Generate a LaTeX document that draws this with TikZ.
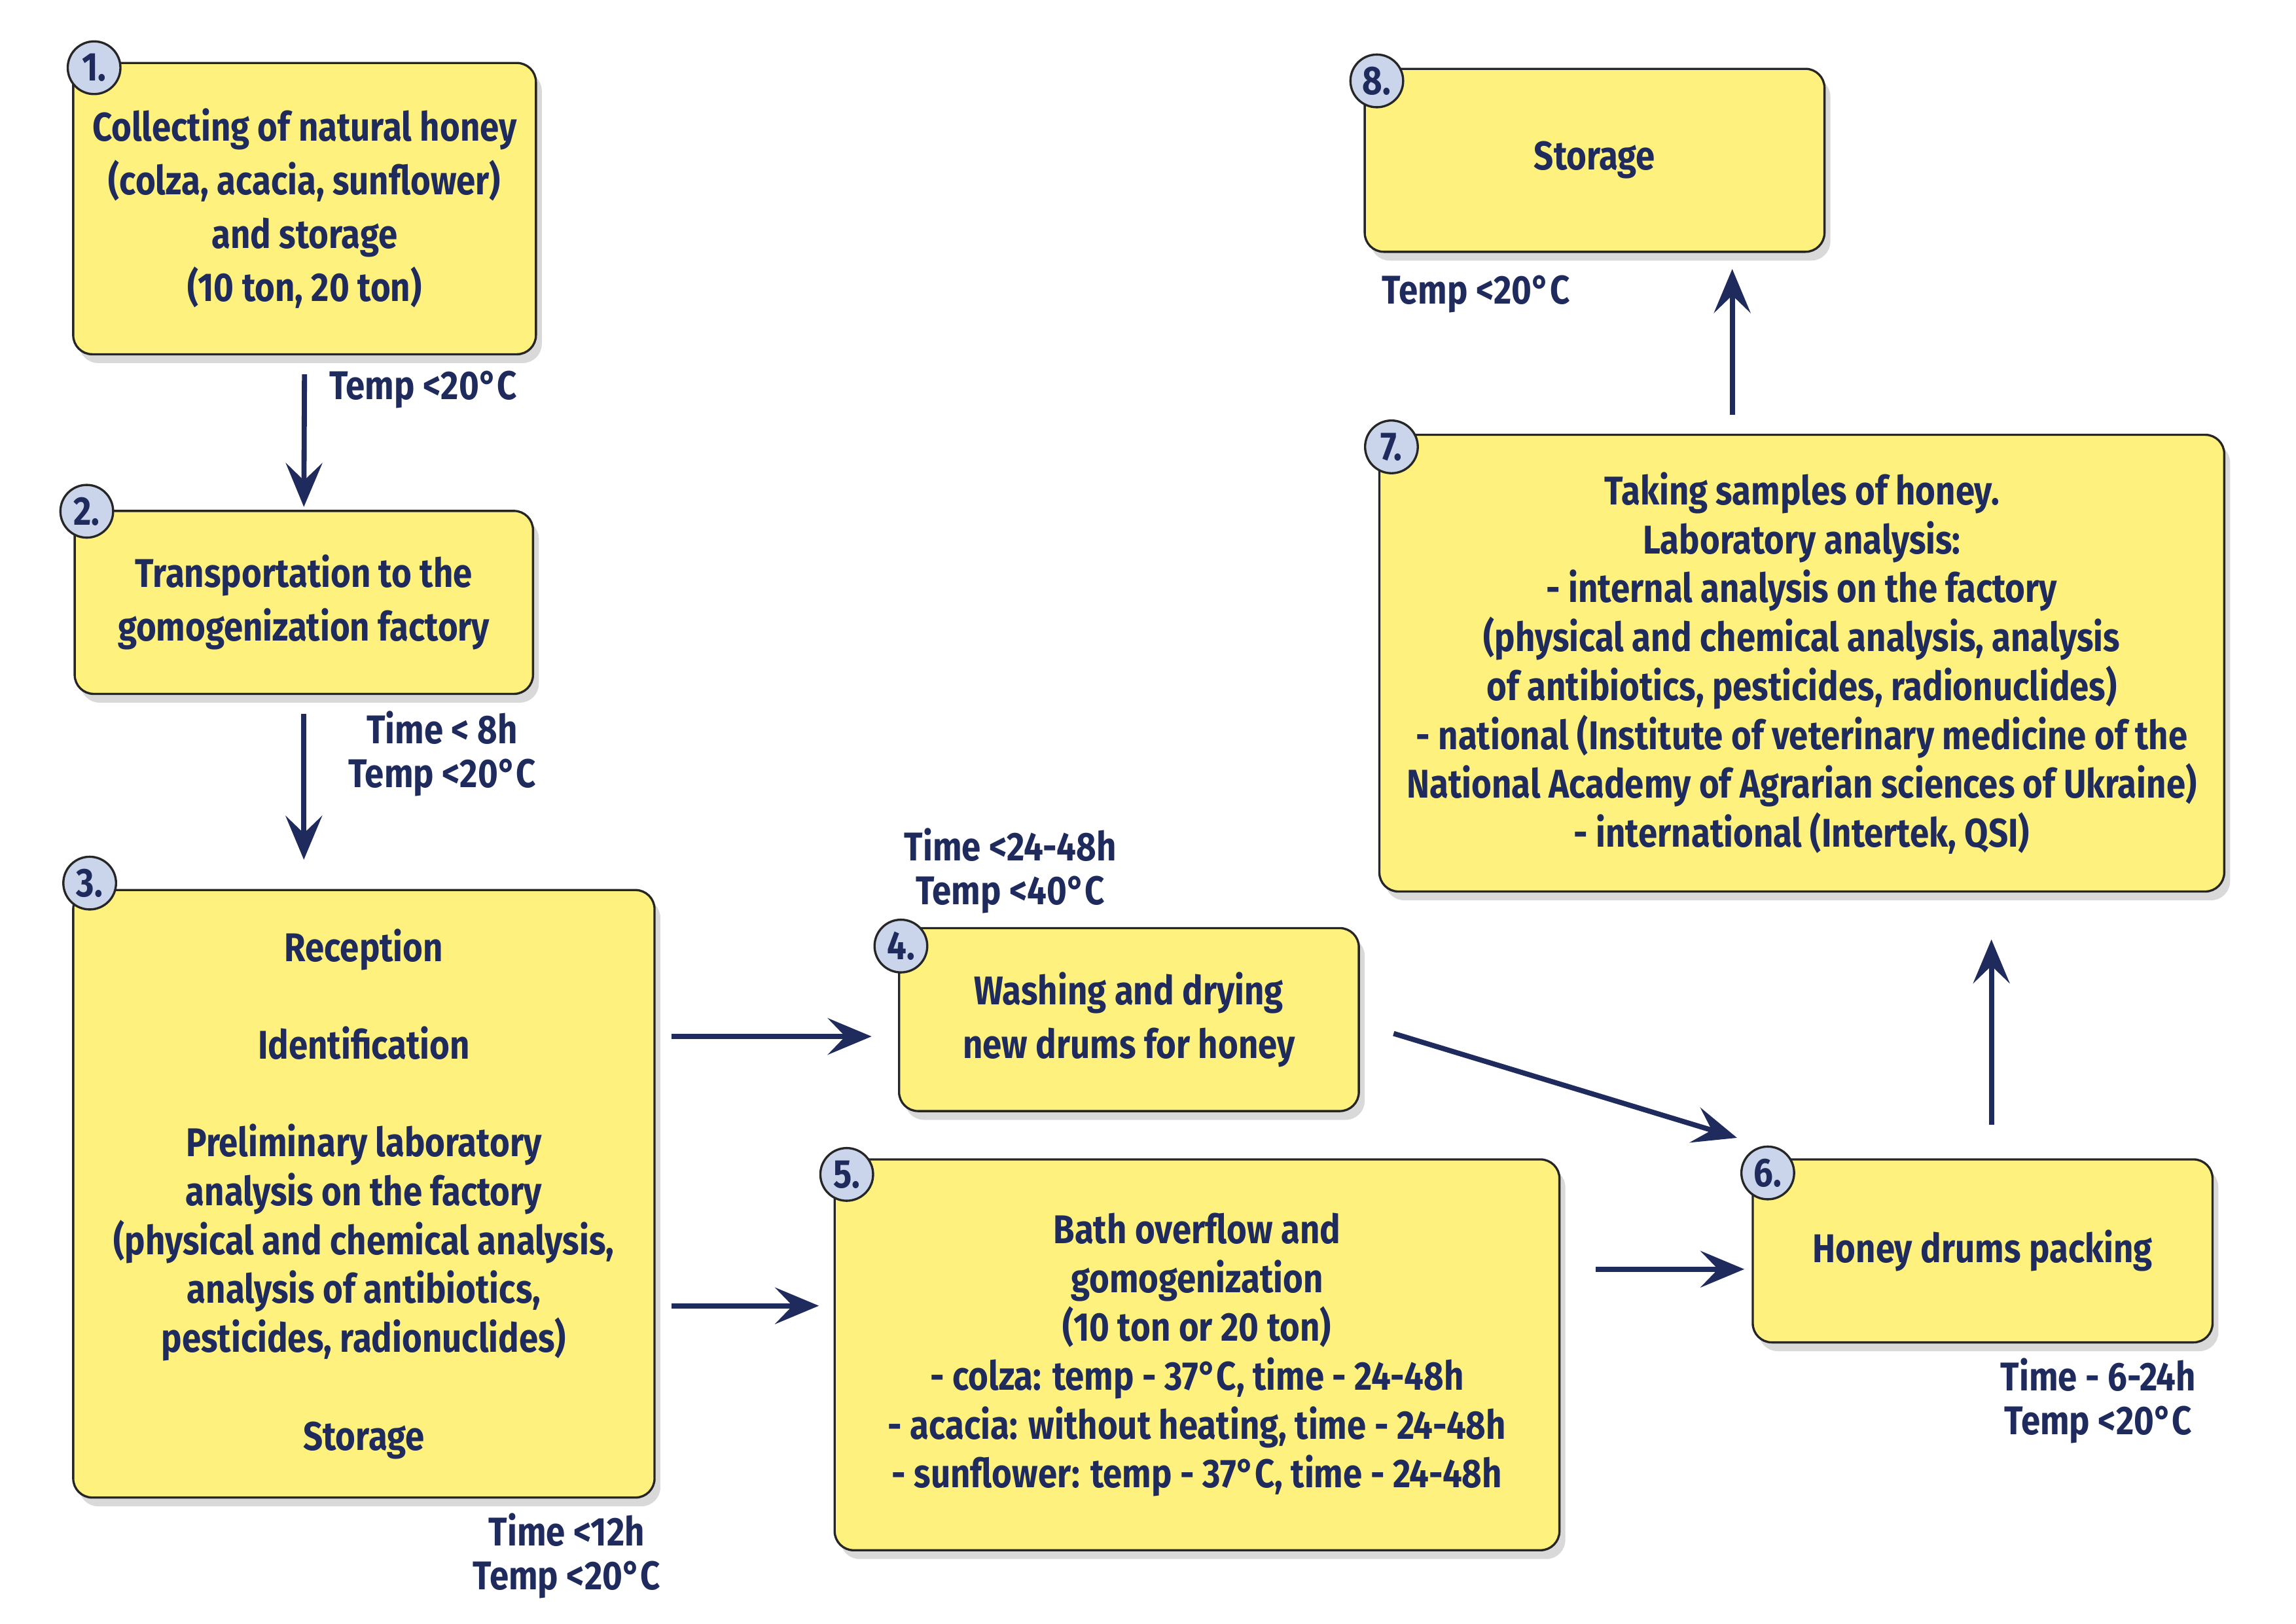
\documentclass[tikz,border=0pt]{standalone}
\usepackage{fontspec}
\setmainfont{Fira Sans}[FakeStretch=0.86]
\usetikzlibrary{arrows.meta,shadows}

\definecolor{navy}{HTML}{1E2B5C}
\definecolor{honey}{HTML}{FEF17E}
\definecolor{numblue}{HTML}{CAD5EC}

\newcommand{\boxfont}{\bfseries\fontsize{7.8pt}{9.5pt}\selectfont}
\newcommand{\wideboxfont}{\bfseries\fontsize{7.8pt}{10.4pt}\selectfont}
\newcommand{\notefont}{\bfseries\fontsize{7.8pt}{8.5pt}\selectfont}

\tikzset{
  stage/.style={draw=black!85, line width=0.15mm, fill=honey, rounded corners=1.3mm,
    align=center, inner sep=0.5mm, text=navy, font=\boxfont,
    drop shadow={opacity=0.3, shadow xshift=0.4mm, shadow yshift=-0.6mm}},
  num/.style={circle, draw=black!85, line width=0.15mm, fill=numblue, minimum size=3.6mm,
    inner sep=0pt, text=navy, font=\boxfont},
  note/.style={align=center, text=navy, font=\notefont, inner sep=0pt},
  flow/.style={draw=navy, line width=0.35mm, -{Stealth[length=3mm,width=2.5mm,inset=1.2mm]}}
}

\begin{document}
\begin{tikzpicture}[x=0.1mm,y=-0.1mm]
    \useasboundingbox (0,0) rectangle (1568,1109);
    % process stages
    \node[stage, font=\wideboxfont, minimum width=31.6mm, minimum height=19.9mm] (b1) at (208,142.5)
      {Collecting of natural honey\\(colza, acacia, sunflower)\\and storage\\(10 ton, 20 ton)};
    \node[stage, font=\wideboxfont, minimum width=31.3mm, minimum height=12.5mm] (b2) at (207.5,411.5)
      {Transportation to the\\gomogenization factory};
    \node[stage, minimum width=39.7mm, minimum height=41.5mm] (b3) at (248.5,815.5)
      {Reception\\[9.5pt]Identification\\[9.5pt]Preliminary laboratory\\analysis on the factory\\(physical and chemical analysis,\\analysis of antibiotics,\\pesticides, radionuclides)\\[9.5pt]Storage};
    \node[stage, font=\wideboxfont, minimum width=31.4mm, minimum height=12.5mm] (b4) at (771,696.5)
      {Washing and drying\\new drums for honey};
    \node[stage, minimum width=49.5mm, minimum height=26.7mm] (b5) at (817.5,925.5)
      {Bath overflow and\\gomogenization\\(10 ton or 20 ton)\\- colza: temp - 37°C, time - 24-48h\\- acacia: without heating, time - 24-48h\\- sunflower: temp - 37°C, time - 24-48h};
    \node[stage, minimum width=31.4mm, minimum height=12.5mm] (b6) at (1354,854.5)
      {Honey drums packing};
    \node[stage, minimum width=57.7mm, minimum height=31.2mm] (b7) at (1230.5,453)
      {Taking samples of honey.\\Laboratory analysis:\\- internal analysis on the factory\\(physical and chemical analysis, analysis\\of antibiotics, pesticides, radionuclides)\\- national (Institute of veterinary medicine of the\\National Academy of Agrarian sciences of Ukraine)\\- international (Intertek, QSI)};
    \node[stage, minimum width=31.4mm, minimum height=12.5mm] (b8) at (1089,109.5)
      {Storage};

    % step numbers
    \foreach \b/\dx/\dy in {1/1.5/-0.4, 2/0.9/-0.1, 3/1.2/0.4, 4/0.2/-1.3,
                            5/0.9/-1.1, 6/1.1/-1.0, 7/0.9/-0.9, 8/0.9/-0.9}
      \node[num] (n\b) at ([xshift=\dx mm,yshift=\dy mm]b\b.north west) {\b.};

    % conditions
    \node[note] (t12) at (289,266) {Temp <20°C};
    \node[note] (t23) at (302,515) {Time < 8h\\Temp <20°C};
    \node[note] (t34) at (690,595) {Time <24-48h\\Temp <40°C};
    \node[note] (t3) at (387,1063) {Time <12h\\Temp <20°C};
    \node[note] (t6) at (1433,957) {Time - 6-24h\\Temp <20°C};
    \node[note] (t8) at (1008,201) {Temp <20°C};

    % connectors
    \coordinate (p4) at ([yshift=-1.15mm]b4.west);
    \coordinate (p5) at ([yshift=3.35mm]b5.west);
    \coordinate (p6) at ([yshift=-1.25mm]b6.west);
    \coordinate (p7) at ([xshift=0.6mm]b6.north);
    \coordinate (p8) at ([xshift=9.4mm]b8.south);
    \coordinate (s46) at ([xshift=2.3mm,yshift=-0.95mm]b4.east);
    \coordinate (e46) at ([xshift=-1mm,yshift=1.4mm]b6.north west);
    \draw[flow, shorten <=1.3mm, shorten >=0.2mm] (b1.south) -- (b2.north);
    \draw[flow, shorten <=1.3mm, shorten >=2mm] (b2.south) -- (b2.south |- b3.north);
    \draw[flow, shorten <=1.1mm, shorten >=1.8mm] (b3.east |- p4) -- (p4);
    \draw[flow, shorten <=1.1mm, shorten >=1mm] (b3.east |- p5) -- (p5);
    \draw[flow] (s46) -- (e46);
    \draw[flow, shorten <=2.4mm, shorten >=0.5mm] (b5.east |- p6) -- (p6);
    \draw[flow, shorten <=2.3mm, shorten >=3.2mm] (p7) -- (p7 |- b7.south);
    \draw[flow, shorten <=1.3mm, shorten >=1.1mm] (p8 |- b7.north) -- (p8);
\end{tikzpicture}
\end{document}
